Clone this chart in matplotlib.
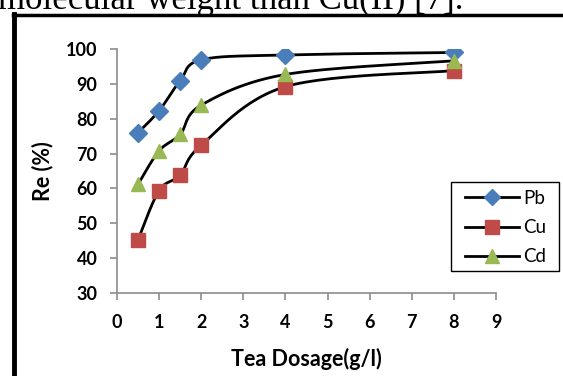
import numpy as np
import matplotlib
matplotlib.use("Agg")
import matplotlib.pyplot as plt
from matplotlib.lines import Line2D
from matplotlib.patches import Rectangle

dosage = [0.5, 1, 1.5, 2, 4, 8]
pb = [76.0, 82.3, 90.9, 96.9, 98.3, 99.0]
cu = [45.3, 59.4, 63.8, 72.4, 89.2, 93.8]
cd = [61.2, 70.8, 75.5, 83.9, 92.7, 96.6]
series_names = ["Pb", "Cu", "Cd"]
colors = ["#4A7EBB", "#BE4B48", "#98B954"]
markers = ["D", "s", "^"]
xticks = list(range(0, 10))
yticks = list(range(30, 101, 10))


def smooth(x, y, n=30):
    # Excel-like smoothed line (Catmull-Rom Bezier)
    x = np.asarray(x, float); y = np.asarray(y, float)
    P = np.column_stack([x, y])
    out = []
    for i in range(len(P) - 1):
        p0 = P[i - 1] if i > 0 else P[i]
        p1 = P[i]; p2 = P[i + 1]
        p3 = P[i + 2] if i + 2 < len(P) else P[i + 1]
        c1 = p1 + (p2 - p0) / 6.0
        c2 = p2 - (p3 - p1) / 6.0
        t = np.linspace(0, 1, n)[:, None]
        seg = ((1 - t) ** 3) * p1 + 3 * ((1 - t) ** 2) * t * c1 + 3 * (1 - t) * t ** 2 * c2 + t ** 3 * p2
        out.append(seg if i == 0 else seg[1:])
    s = np.vstack(out)
    return s[:, 0], s[:, 1]


fig = plt.figure(figsize=(5.63, 3.76), dpi=100)
# heading text from the document (clipped at top)
fig.text(-0.004, 0.975, "molecular weight than Cu(II) [7].", fontsize=25,
         family="Liberation Serif", ha="left", va="baseline")
# frame lines
fig.add_artist(Line2D([0.0255, 0.0255], [0, 0.962], color="black", lw=3.5, transform=fig.transFigure))
fig.add_artist(Line2D([0.0225, 1.0], [0.959, 0.959], color="black", lw=2.5, transform=fig.transFigure))

ax = fig.add_axes([117 / 563, 1 - 293 / 376, (496 - 117) / 563, (293 - 49) / 376])
for name, vals, c, m in zip(series_names, [pb, cu, cd], colors, markers):
    sx, sy = smooth(dosage, vals)
    ax.plot(sx, sy, color="black", lw=2, zorder=2)
    ms = 9 if m == "D" else 10
    ax.plot(dosage, vals, linestyle="none", marker=m, color=c, markersize=ms,
            markeredgecolor=c, zorder=3)

ax.set_xlim(0, 9)
ax.set_ylim(30, 100)
ax.set_xticks(xticks)
ax.set_yticks(yticks)
for s in ["top", "right"]:
    ax.spines[s].set_visible(False)
for s in ["left", "bottom"]:
    ax.spines[s].set_color("#8c8c8c")
    ax.spines[s].set_linewidth(1.2)
ax.tick_params(direction="out", length=5, width=1.2, color="#8c8c8c", labelsize=13)
ax.tick_params(axis="y", pad=9)
ax.tick_params(axis="x", pad=10)
for lab in ax.get_xticklabels() + ax.get_yticklabels():
    lab.set_fontweight("bold")
    lab.set_family("Lato")
ax.set_xlabel("Tea Dosage(g/l)", fontsize=15.5, fontweight="bold", family="Lato", labelpad=12)
ax.set_ylabel("Re (%)", fontsize=15.5, fontweight="bold", family="Lato", labelpad=9)

# legend box
fig.add_artist(Rectangle((451 / 563, 1 - 271 / 376), 108 / 563, 89 / 376,
                         transform=fig.transFigure, facecolor="white",
                         edgecolor="black", lw=1.0, zorder=5))
handles = [Line2D([0], [0], color="black", lw=2, marker=m, markerfacecolor=c,
                  markeredgecolor=c, markersize=(8 if m == "D" else 10))
           for c, m in zip(colors, markers)]
leg = fig.legend(handles, series_names, loc="upper left",
                 bbox_to_anchor=(465 / 563, 1 - 190 / 376),
                 frameon=False, handlelength=2.9, borderaxespad=0, borderpad=0,
                 prop={"family": "Lato", "size": 13.5},
                 labelspacing=0.65, handletextpad=0.2)
leg.set_zorder(6)

fig.savefig("out.png", dpi=100)
